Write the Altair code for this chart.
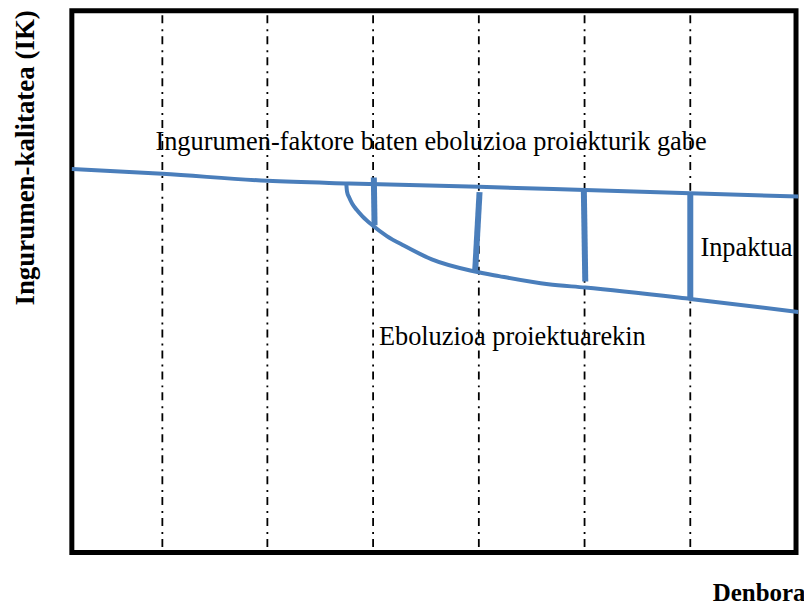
import altair as alt
import pandas as pd

# Abstract units: time 0..10 (x), environmental quality 0..10 (y)
grid_time = [1.25, 2.70, 4.16, 5.62, 7.08, 8.54]

time_without = [0.0, 1.25, 2.70, 3.83, 5.62, 7.09, 8.54, 10.03]
quality_without = [7.08, 6.99, 6.86, 6.81, 6.75, 6.69, 6.63, 6.57]

time_with = [3.79, 3.80, 3.83, 3.87, 3.93, 4.01, 4.15, 4.35, 4.59, 4.97, 5.55, 5.90, 6.58, 7.09, 8.54, 10.03]
quality_with = [6.81, 6.66, 6.55, 6.44, 6.33, 6.21, 6.04, 5.84, 5.66, 5.41, 5.19, 5.10, 4.95, 4.89, 4.68, 4.44]

impact_time_top = [4.17, 5.63, 7.07, 8.54]
impact_quality_top = [6.92, 6.65, 6.69, 6.62]
impact_time_bottom = [4.18, 5.57, 7.09, 8.54]
impact_quality_bottom = [6.04, 5.21, 5.00, 4.69]

label_texts = ["Ingurumen-faktore baten eboluzioa proiekturik gabe", "Inpaktua", "Eboluzioa proiektuarekin"]
label_time = [4.96, 8.68, 4.24]
label_quality = [7.42, 5.47, 3.83]
label_align = ["center", "left", "left"]

BLUE = "#4a7ebb"
SERIF = "Liberation Serif"

xs = alt.Scale(domain=[0, 10], nice=False, zero=False)
ys = alt.Scale(domain=[0, 10], nice=False, zero=False)

grid_df = pd.DataFrame({"t": grid_time, "q0": [0.1] * len(grid_time), "q1": [9.95] * len(grid_time)})
without_df = pd.DataFrame({"t": time_without, "q": quality_without})
with_df = pd.DataFrame({"t": time_with, "q": quality_with})
impact_df = pd.DataFrame({"t": impact_time_top, "q": impact_quality_top,
                          "t2": impact_time_bottom, "q2": impact_quality_bottom})
labels_df = pd.DataFrame({"text": label_texts, "t": label_time, "q": label_quality, "align": label_align})

x_axis = alt.Axis(domain=False, ticks=False, labels=False, grid=False, title="Denbora",
                  titleFont=SERIF, titleFontWeight="bold", titleFontSize=25,
                  titleAlign="right", titleX=735, titleY=48, titleBaseline="alphabetic",
                  titleColor="black")
y_axis = alt.Axis(domain=False, ticks=False, labels=False, grid=False, title="Ingurumen-kalitatea (IK)",
                  titleFont=SERIF, titleFontWeight="bold", titleFontSize=27,
                  titleAngle=270, titleX=-46, titleY=147, titleBaseline="middle", titleAlign="center",
                  titleColor="black")

grid = alt.Chart(grid_df).mark_rule(color="black", strokeWidth=1.8, strokeDash=[8, 5, 2, 6]).encode(
    x=alt.X("t:Q", scale=xs, axis=x_axis),
    y=alt.Y("q0:Q", scale=ys, axis=y_axis),
    y2="q1:Q",
)

without_line = alt.Chart(without_df).mark_line(color=BLUE, strokeWidth=4, interpolate="monotone").encode(
    x=alt.X("t:Q", scale=xs), y=alt.Y("q:Q", scale=ys)
)
with_line = alt.Chart(with_df).mark_line(color=BLUE, strokeWidth=4, interpolate="monotone").encode(
    x=alt.X("t:Q", scale=xs), y=alt.Y("q:Q", scale=ys)
)
impacts = alt.Chart(impact_df).mark_rule(color=BLUE, strokeWidth=6).encode(
    x=alt.X("t:Q", scale=xs), y=alt.Y("q:Q", scale=ys), x2="t2:Q", y2="q2:Q"
)

center_labels = alt.Chart(labels_df[labels_df["align"] == "center"]).mark_text(
    font=SERIF, fontSize=26.4, color="black", align="center", baseline="alphabetic"
).encode(x=alt.X("t:Q", scale=xs), y=alt.Y("q:Q", scale=ys), text="text:N")
left_labels = alt.Chart(labels_df[labels_df["align"] == "left"]).mark_text(
    font=SERIF, fontSize=26.4, color="black", align="left", baseline="alphabetic"
).encode(x=alt.X("t:Q", scale=xs), y=alt.Y("q:Q", scale=ys), text="text:N")

chart = alt.layer(grid, without_line, with_line, impacts, center_labels, left_labels).properties(
    width=726, height=543,
    background="white",
    autosize=alt.AutoSizeParams(type="none"),
    padding={"left": 64, "top": 2, "right": 8, "bottom": 55},
).configure_view(stroke="black", strokeWidth=5)

chart.save("out.html", embed_options={"renderer": "svg", "actions": False})
